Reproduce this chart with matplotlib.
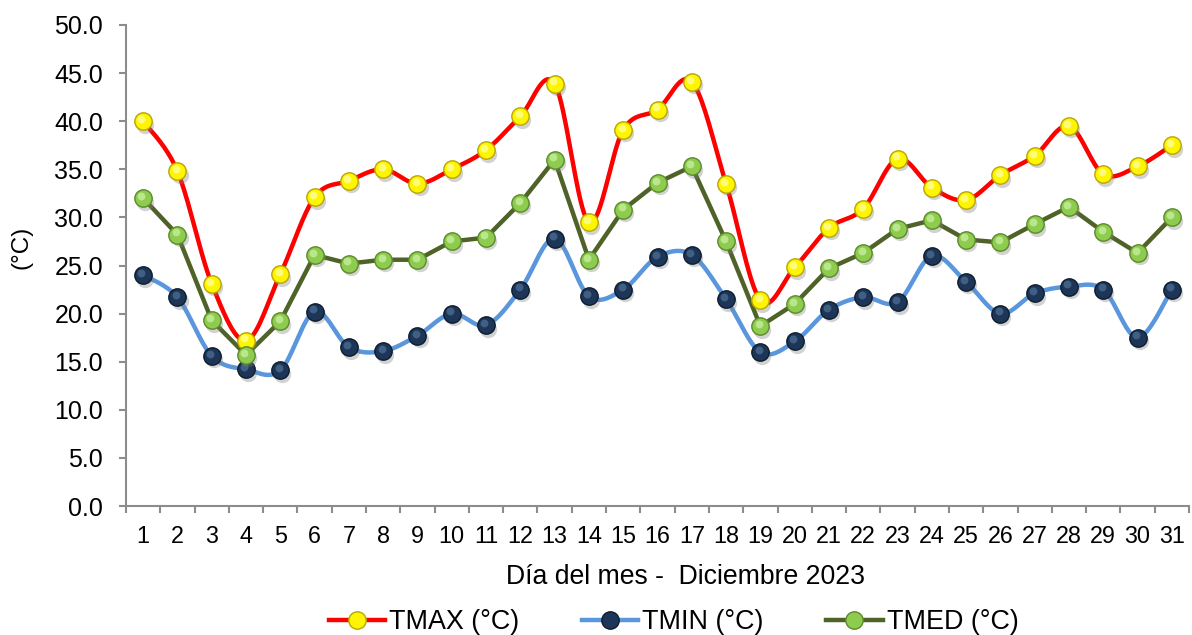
import numpy as np
import matplotlib
matplotlib.use("Agg")
import matplotlib.pyplot as plt
from matplotlib.lines import Line2D
from matplotlib.transforms import offset_copy

plt.rcParams['font.family'] = ['Liberation Sans', 'DejaVu Sans']

days = list(range(1, 32))
tmax = [40.0, 34.8, 23.1, 17.2, 24.1, 32.1, 33.8, 35.0, 33.5, 35.0, 37.0, 40.5, 43.9,
        29.5, 39.1, 41.2, 44.1, 33.5, 21.4, 24.8, 28.9, 30.9, 36.1, 33.1, 31.8, 34.4,
        36.4, 39.5, 34.5, 35.3, 37.5]
tmin = [24.0, 21.7, 15.6, 14.2, 14.1, 20.2, 16.5, 16.1, 17.7, 20.0, 18.8, 22.5, 27.8,
        21.8, 22.5, 25.9, 26.1, 21.5, 16.0, 17.1, 20.4, 21.7, 21.2, 26.0, 23.3, 20.0,
        22.1, 22.8, 22.5, 17.5, 22.5]
tmed = [32.0, 28.2, 19.3, 15.7, 19.2, 26.1, 25.2, 25.6, 25.6, 27.5, 27.9, 31.5, 36.0,
        25.6, 30.8, 33.6, 35.3, 27.5, 18.7, 21.0, 24.7, 26.3, 28.8, 29.7, 27.7, 27.4,
        29.3, 31.1, 28.5, 26.3, 30.0]
yticks = [0, 5, 10, 15, 20, 25, 30, 35, 40, 45, 50]

labels = ["TMAX (°C)", "TMIN (°C)", "TMED (°C)"]
xlabel = "Día del mes -  Diciembre 2023"
ylabel = "(°C)"


def smooth(x, y, n=20):
    x = np.asarray(x, float)
    y = np.asarray(y, float)
    px = np.concatenate([[x[0]], x, [x[-1]]])
    py = np.concatenate([[y[0]], y, [y[-1]]])
    xs, ys = [], []
    t = np.linspace(0, 1, n, endpoint=False)
    for i in range(1, len(px) - 2):
        p0, p1, p2, p3 = (np.array([px[j], py[j]]) for j in (i - 1, i, i + 1, i + 2))
        c1 = p1 + (p2 - p0) / 6.0
        c2 = p2 - (p3 - p1) / 6.0
        b = ((1 - t) ** 3)[:, None] * p1 + (3 * (1 - t) ** 2 * t)[:, None] * c1 + \
            (3 * (1 - t) * t ** 2)[:, None] * c2 + (t ** 3)[:, None] * p2
        xs.append(b[:, 0]); ys.append(b[:, 1])
    xs.append([x[-1]]); ys.append([y[-1]])
    return np.concatenate(xs), np.concatenate(ys)


fig = plt.figure(figsize=(11.92, 6.35), dpi=100)
ax = fig.add_axes([126 / 1192, 1 - 506 / 635, (1189 - 126) / 1192, (506 - 25) / 635])

series = [
    (tmax, "#FF0000", "#FFF500", "#B8A600", True),
    (tmin, "#5A96DC", "#1D3658", "#0E1C2E", True),
    (tmed, "#4F6228", "#8DCC4F", "#5C8A2A", False),
]
highlights = ["#FFFF99", "#4A6A90", "#C6EE9C"]
ms = 12.5
for vals, lc, mc, ec, sm in series:
    if sm:
        sx, sy = smooth(days, vals)
    else:
        sx, sy = days, vals
    ax.plot(sx, sy, color=lc, lw=3.2, zorder=2, solid_capstyle='round')

for k, (vals, lc, mc, ec, sm) in enumerate(series):
    shadow_tr = offset_copy(ax.transData, fig=fig, x=1.5, y=-2.5, units='points')
    ax.plot(days, vals, ls='none', marker='o', ms=ms, mfc='#808080', mec='none',
            alpha=0.35, transform=shadow_tr, zorder=3 + k)
    ax.plot(days, vals, ls='none', marker='o', ms=ms, mfc=mc, mec=ec, mew=1.0,
            zorder=3.1 + k)
    hl_tr = offset_copy(ax.transData, fig=fig, x=-1.2, y=1.6, units='points')
    ax.plot(days, vals, ls='none', marker='o', ms=ms * 0.45, mfc=highlights[k], mec='none',
            alpha=0.8, transform=hl_tr, zorder=3.2 + k)

ax.set_xlim(0.5, 31.5)
ax.set_ylim(0, 50)
ax.set_yticks(yticks)
ax.set_yticklabels([f"{v:.1f}" for v in yticks])
ax.set_xticks(days)
ax.set_xticklabels([str(d) for d in days])
ax.set_xticks(np.arange(0.5, 32, 1), minor=True)
ax.tick_params(axis='x', which='major', length=0, labelsize=16.8, pad=14)
ax.tick_params(axis='x', which='minor', length=5, width=1.5, color='#8C8C8C')
ax.tick_params(axis='y', length=5, width=1.5, color='#8C8C8C', labelsize=18, pad=11.5)
for s in ['top', 'right']:
    ax.spines[s].set_visible(False)
for s in ['left', 'bottom']:
    ax.spines[s].set_color('#8C8C8C')
    ax.spines[s].set_linewidth(1.5)

ax.set_xlabel(xlabel, fontsize=19.2)
ax.xaxis.set_label_coords((685.5 - 126) / 1063, (506 - 577) / 481)
ax.xaxis.label.set_va('center')
ax.set_ylabel(ylabel, fontsize=17.5)
ax.yaxis.set_label_coords((22 - 126) / 1063, (506 - 247) / 481)
ax.yaxis.label.set_va('center')

handles = []
for vals, lc, mc, ec, sm in series:
    handles.append(Line2D([], [], color=lc, lw=3.2, marker='o', ms=ms, mfc=mc, mec=ec))
fig.legend(handles, labels, loc='center', bbox_to_anchor=(673.5 / 1192, 1 - 622 / 635),
           ncol=3, frameon=False, fontsize=19.4, handlelength=2.08, handletextpad=0.15,
           columnspacing=2.34)

fig.savefig("out.png", dpi=100)
